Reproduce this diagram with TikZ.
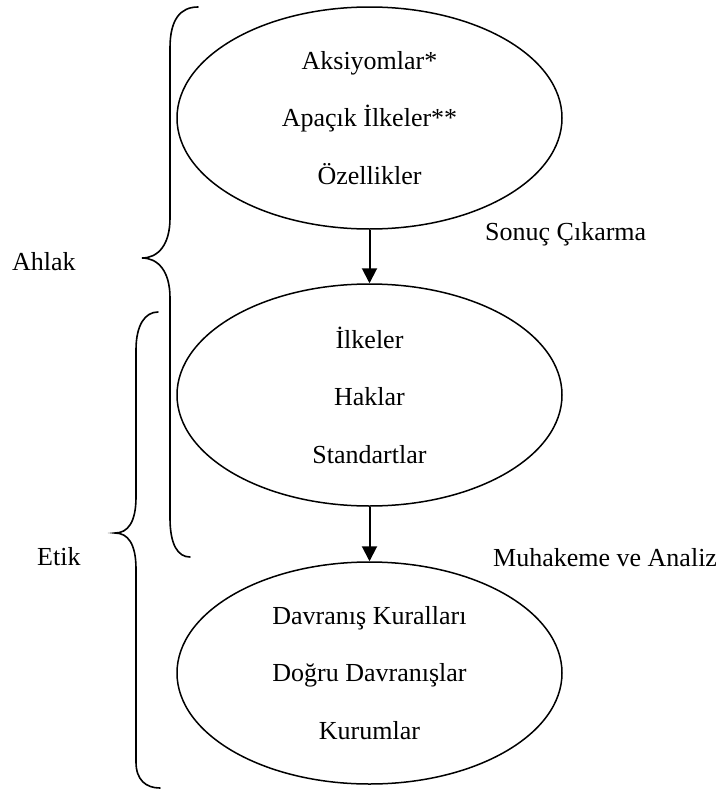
\documentclass[tikz,border=0pt]{standalone}
\usepackage{fontspec}
\setmainfont{Liberation Serif}
\usetikzlibrary{shapes.geometric,arrows.meta}
\begin{document}
\begin{tikzpicture}[x=1pt,y=-1pt,
  every node/.style={font=\fontsize{26}{57.5}\selectfont},
  oval/.style={draw,ellipse,line width=1.5pt,minimum width=385pt,minimum height=222pt,inner sep=0pt,align=center},
  flow/.style={line width=2pt,-{Triangle[length=15pt,width=15pt]}},
  brace/.style={line width=1.6pt,line cap=round},
  label/.style={anchor=base west,inner sep=0pt}]
\useasboundingbox (0,0) rectangle (727,790);

% the three stages
\node[oval] (e1) at (369.5,118) {Aksiyomlar*\\Apaçık İlkeler**\\Özellikler};
\node[oval] (e2) at (369.5,395) {İlkeler\\Haklar\\Standartlar};
\node[oval] (e3) at (369.5,673) {Davranış Kuralları\\Doğru Davranışlar\\Kurumlar};

% connectors between stages
\draw[flow] (e1.south) -- (e2.north);
\draw[flow] (e2.south) -- (e3.north);

\node[label] (l1) at (485,240) {Sonuç Çıkarma};
\node[label] (l2) at (493,566) {Muhakeme ve Analiz};

% brace for Ahlak
\draw[brace] (198,7) .. controls (180,7) and (170,20) .. (170,48)
  -- (170,218) .. controls (170,245) and (158,258) .. (142,258)
  .. controls (158,258) and (170,271) .. (170,298)
  -- (170,518) .. controls (170,545) and (178,557) .. (190,557);
\node[label] (ahlak) at (12,270) {Ahlak};

% brace for Etik
\draw[brace] (158,312) .. controls (145,312) and (136,325) .. (136,350)
  -- (136,497) .. controls (136,522) and (128,533) .. (115,533)
  .. controls (128,533) and (136,544) .. (136,569)
  -- (136,762) .. controls (136,780) and (146,788) .. (160,788);
\node[label] (etik) at (37,565) {Etik};
\end{tikzpicture}
\end{document}
